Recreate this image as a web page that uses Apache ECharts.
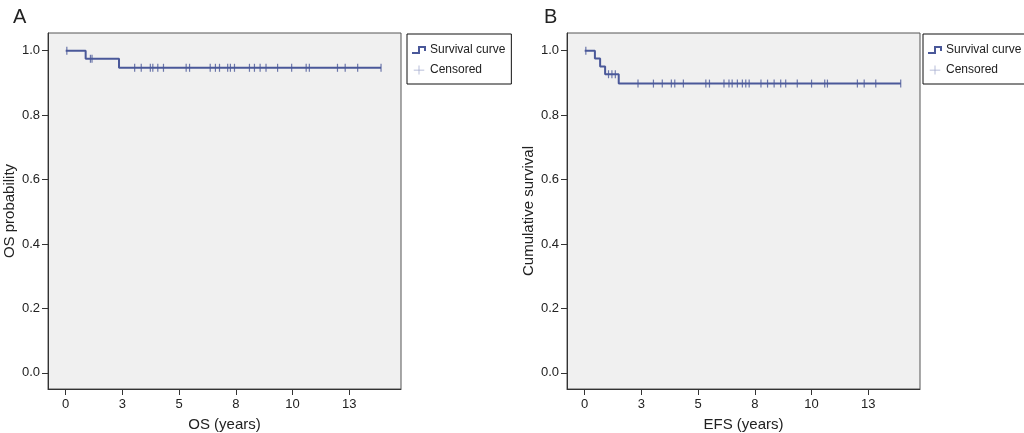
<!DOCTYPE html>
<html>
<head>
<meta charset="utf-8">
<script src="https://cdn.jsdelivr.net/npm/echarts@6/dist/echarts.min.js"></script>
<style>html,body{margin:0;padding:0;background:#fff;}#c{width:1024px;height:433px;}</style>
</head>
<body>
<div id="c"></div>
<script>
// ---- data ----
const xTickValues = [0, 2.5, 5, 7.5, 10, 12.5];
const xTickLabels = ['0', '3', '5', '8', '10', '13'];
const yTickValues = [0, 0.2, 0.4, 0.6, 0.8, 1.0];
const yTickLabels = ['0.0', '0.2', '0.4', '0.6', '0.8', '1.0'];

// Panel A (OS): step points [time, survival]
const osTimes = [0, 0.88, 2.35, 13.9];
const osSurv  = [1.0, 0.975, 0.947, 0.947];
const osCensored = [0.05, 1.09, 1.16, 3.04, 3.33, 3.73, 3.84, 4.06, 4.31, 5.31, 5.46, 6.37, 6.60, 6.78, 7.14, 7.26, 7.44, 8.10, 8.32, 8.57, 8.83, 9.34, 9.96, 10.6, 10.74, 11.98, 12.32, 12.87, 13.9];

// Panel B (EFS)
const efsTimes = [0, 0.45, 0.68, 0.9, 1.5, 13.93];
const efsSurv  = [1.0, 0.976, 0.951, 0.927, 0.898, 0.898];
const efsCensored = [0.05, 1.05, 1.2, 1.35, 2.35, 3.03, 3.42, 3.82, 3.97, 4.35, 5.34, 5.5, 6.14, 6.36, 6.5, 6.73, 6.95, 7.1, 7.25, 7.77, 8.06, 8.35, 8.64, 8.86, 9.37, 10.0, 10.58, 10.7, 12.02, 12.32, 12.83, 13.93];

// ---- helpers ----
function stepPts(t, s) { return t.map((v, i) => [v, s[i]]); }
function survAt(t, s, x) {
  let v = s[0];
  for (let i = 0; i < t.length; i++) { if (t[i] <= x) v = s[i]; }
  return v;
}
function censPts(c, t, s) { return c.map(x => [x, survAt(t, s, x)]); }

const FONT = 'Liberation Sans, Arial, sans-serif';
const LINE = '#4a5899';
const TXT = '#222';

function xAxisFor(gi, name) {
  return {
    gridIndex: gi, type: 'value', min: -0.78, max: 14.78,
    name: name, nameLocation: 'middle', nameGap: 28,
    nameTextStyle: { fontSize: 15, color: TXT, fontFamily: FONT },
    axisLine: { show: true, onZero: false, lineStyle: { color: '#333', width: 1 } },
    axisTick: { show: true, length: 6, customValues: xTickValues, lineStyle: { color: '#333' } },
    axisLabel: { customValues: xTickValues, margin: 9, fontSize: 13, color: TXT, fontFamily: FONT,
      formatter: v => { const i = xTickValues.indexOf(v); return i >= 0 ? xTickLabels[i] : ''; } },
    splitLine: { show: false }
  };
}
function yAxisFor(gi, name) {
  return {
    gridIndex: gi, type: 'value', min: -0.05, max: 1.055,
    name: name, nameLocation: 'middle', nameGap: 31,
    nameTextStyle: { fontSize: 15, color: TXT, fontFamily: FONT },
    axisLine: { show: true, onZero: false, lineStyle: { color: '#333', width: 1 } },
    axisTick: { show: true, length: 6, customValues: yTickValues, lineStyle: { color: '#333' } },
    axisLabel: { customValues: yTickValues, margin: 8, fontSize: 13, color: TXT, fontFamily: FONT,
      formatter: v => { let best = 0; yTickValues.forEach((t, i) => { if (Math.abs(t - v) < Math.abs(yTickValues[best] - v)) best = i; }); return yTickLabels[best]; } },
    splitLine: { show: false }
  };
}

const stepIcon = 'path://M0,8 L6,8 L6,2 L14,2 L14,7 L12,7 L12,4 L8,4 L8,10 L0,10 Z';
const crossIcon = 'path://M0,5.5 L14,5.5 L14,6.5 L0,6.5 Z M6.5,0 L7.5,0 L7.5,12 L6.5,12 Z';

function legendFor(left, names) {
  return {
    left: left, top: 34, orient: 'vertical',
    backgroundColor: '#fff', borderColor: '#111', borderWidth: 1,
    padding: [10, 6, 8, 5], itemGap: 8, itemWidth: 14, itemHeight: 9,
    textStyle: { fontSize: 12, color: TXT, fontFamily: FONT, padding: [0, 0, 0, -1] },
    selectedMode: false,
    data: [
      { name: names[0], icon: stepIcon, itemStyle: { color: LINE } },
      { name: names[1], icon: crossIcon, itemStyle: { color: '#8a93c0' } }
    ]
  };
}

const censorSymbol = 'path://M0,0 L1,0 L1,8 L0,8 Z';

const option = {
  animation: false,
  backgroundColor: '#fff',
  title: [
    { text: 'A', left: 8, top: 2, textStyle: { fontSize: 20, fontWeight: 'normal', color: TXT, fontFamily: FONT } },
    { text: 'B', left: 539, top: 2, textStyle: { fontSize: 20, fontWeight: 'normal', color: TXT, fontFamily: FONT } }
  ],
  legend: [
    legendFor(407, ['Survival curve', 'Censored']),
    legendFor(923, ['Survival curve ', 'Censored '])
  ],
  grid: [
    { left: 48, top: 33, width: 353, height: 356, show: true, backgroundColor: '#f0f0f0', borderColor: '#555', borderWidth: 1, containLabel: false, outerBoundsMode: 'none' },
    { left: 567, top: 33, width: 353, height: 356, show: true, backgroundColor: '#f0f0f0', borderColor: '#555', borderWidth: 1, containLabel: false, outerBoundsMode: 'none' }
  ],
  xAxis: [xAxisFor(0, 'OS (years)'), xAxisFor(1, 'EFS (years)')],
  yAxis: [yAxisFor(0, 'OS probability'), yAxisFor(1, 'Cumulative survival')],
  series: [
    { name: 'Survival curve', type: 'line', xAxisIndex: 0, yAxisIndex: 0, step: 'end',
      data: stepPts(osTimes, osSurv), showSymbol: false, symbol: 'none',
      lineStyle: { color: LINE, width: 2 }, itemStyle: { color: LINE } },
    { name: 'Censored', type: 'scatter', xAxisIndex: 0, yAxisIndex: 0,
      data: censPts(osCensored, osTimes, osSurv), symbol: censorSymbol, symbolSize: [1.2, 8],
      itemStyle: { color: LINE } },
    { name: 'Survival curve ', type: 'line', xAxisIndex: 1, yAxisIndex: 1, step: 'end',
      data: stepPts(efsTimes, efsSurv), showSymbol: false, symbol: 'none',
      lineStyle: { color: LINE, width: 2 }, itemStyle: { color: LINE } },
    { name: 'Censored ', type: 'scatter', xAxisIndex: 1, yAxisIndex: 1,
      data: censPts(efsCensored, efsTimes, efsSurv), symbol: censorSymbol, symbolSize: [1.2, 8],
      itemStyle: { color: LINE } }
  ]
};

const chart = echarts.init(document.getElementById('c'), null, { renderer: 'canvas' });
chart.setOption(option);
</script>
</body>
</html>
